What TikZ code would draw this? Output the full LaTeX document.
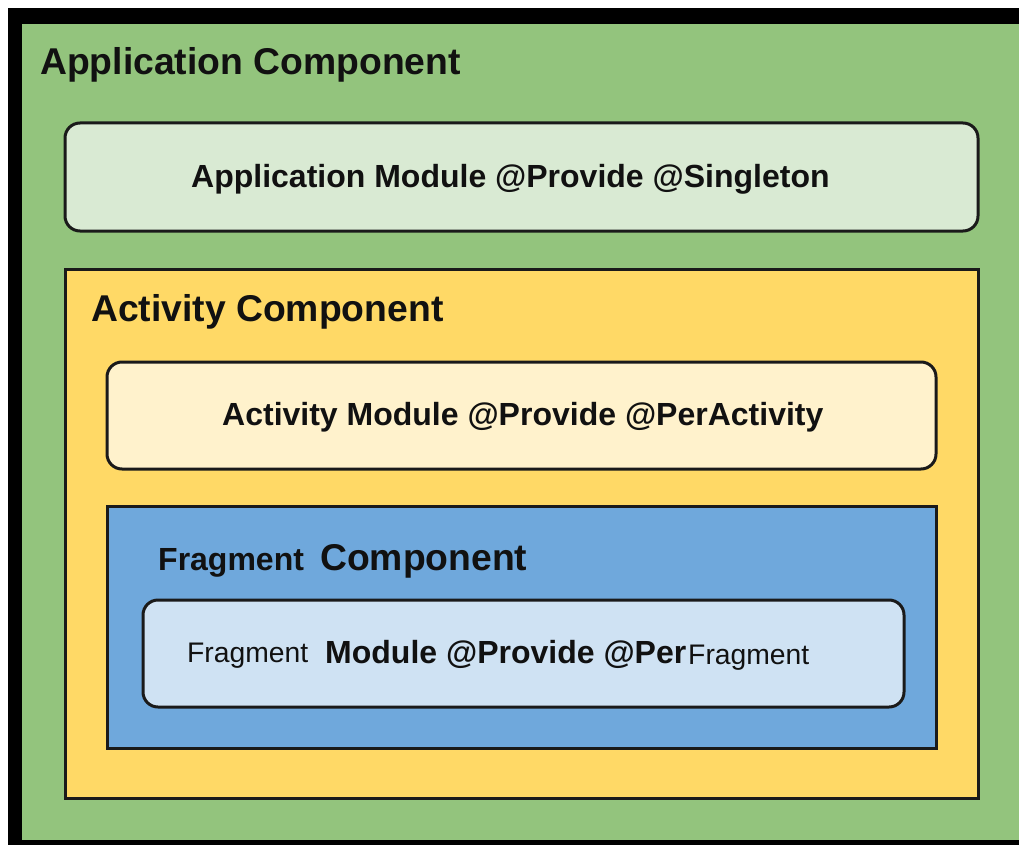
\documentclass[tikz,border=0pt]{standalone}
\usepackage{fontspec}
\setmainfont{Liberation Sans}
\definecolor{outerg}{HTML}{93C47D}
\definecolor{lightg}{HTML}{D9EAD3}
\definecolor{actyel}{HTML}{FFD966}
\definecolor{lightyel}{HTML}{FFF2CC}
\definecolor{fragblue}{HTML}{6FA8DC}
\definecolor{lightblue}{HTML}{CFE2F3}
\definecolor{edge}{HTML}{1A1A1A}
\definecolor{ink}{HTML}{111111}
\tikzset{
  container/.style={draw=edge, line width=3pt, inner sep=0pt, outer sep=0pt},
  modbox/.style={container, rounded corners=15pt},
  bigtitle/.style={inner sep=0pt, text=ink, font=\bfseries\fontsize{37.3}{40}\selectfont},
  modtext/.style={inner sep=0pt, text=ink, font=\bfseries\fontsize{32}{36}\selectfont},
  smalltext/.style={inner sep=0pt, text=ink, font=\fontsize{28.3}{32}\selectfont},
}
\begin{document}
\begin{tikzpicture}[x=1pt,y=-1pt]
\useasboundingbox (0,0) rectangle (1019,845);
\fill[white] (0,0) rectangle (1019,845);
\fill[black] (8,8) rectangle (1025,850);
\node[fill=outerg, inner sep=0pt, outer sep=0pt, minimum width=1003pt, minimum height=816pt, anchor=north west] (appcomp) at (22,24) {};
\node[bigtitle, anchor=base west] (apptitle) at (40,75) {Application Component};

\node[modbox, fill=lightg, minimum width=913pt, minimum height=108pt, anchor=north west] (appmod) at (65,123) {};
\node[modtext, anchor=base west] (appmodtxt) at (191,187) {Application Module @Provide @Singleton};

\node[container, fill=actyel, minimum width=913pt, minimum height=529pt, anchor=north west] (actcomp) at (65,269) {};
\node[bigtitle, anchor=base west] (acttitle) at (91,321) {Activity Component};

\node[modbox, fill=lightyel, minimum width=829pt, minimum height=107pt, anchor=north west] (actmod) at (107,362) {};
\node[modtext, anchor=base west] (actmodtxt) at (222,425) {Activity Module @Provide @PerActivity};

\node[container, fill=fragblue, minimum width=829pt, minimum height=242pt, anchor=north west] (fragcomp) at (107,506) {};
\node[modtext, anchor=base west] (fragtitleA) at (158,570) {Fragment};
\node[bigtitle, anchor=base west] (fragtitleB) at (320,570) {Component};

\node[modbox, fill=lightblue, minimum width=761pt, minimum height=107pt, anchor=north west] (fragmod) at (143,600) {};
\node[smalltext, anchor=base west] (fragmodA) at (187,662) {Fragment};
\node[modtext, anchor=base west] (fragmodB) at (325,663) {Module @Provide @Per};
\node[smalltext, anchor=base west] (fragmodC) at (688,664) {Fragment};
\end{tikzpicture}
\end{document}
